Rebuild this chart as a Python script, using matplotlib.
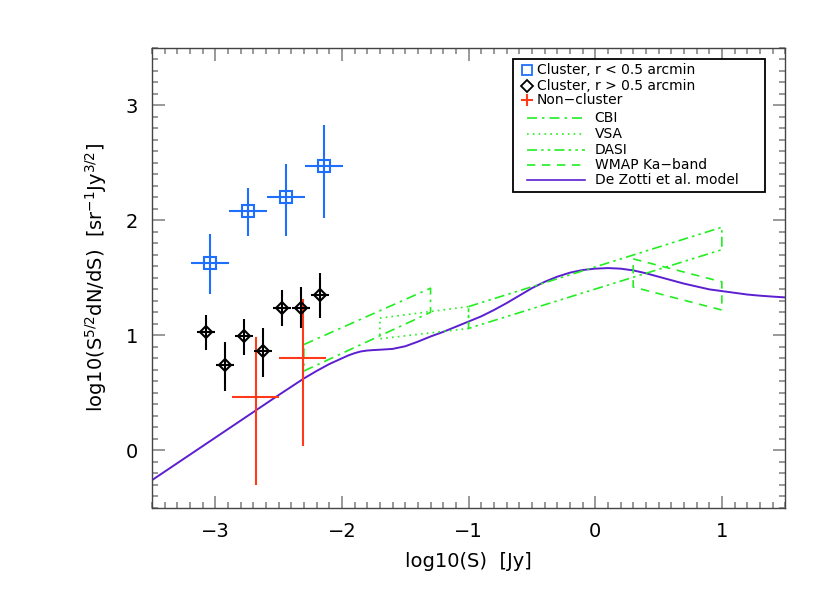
import matplotlib
matplotlib.use("Agg")
import matplotlib.pyplot as plt
from matplotlib.patches import Rectangle
from matplotlib.ticker import MultipleLocator

# ---- data ----
# Cluster, r < 0.5 arcmin (blue squares)
blue_x = [-3.04, -2.74, -2.44, -2.14]
blue_y = [1.63, 2.08, 2.20, 2.47]
blue_xerr = [0.15, 0.15, 0.15, 0.15]
blue_yerr_lo = [0.27, 0.22, 0.34, 0.45]
blue_yerr_hi = [0.25, 0.20, 0.29, 0.36]

# Cluster, r > 0.5 arcmin (black diamonds)
black_x = [-3.07, -2.92, -2.77, -2.62, -2.47, -2.32, -2.17]
black_y = [1.03, 0.74, 0.99, 0.86, 1.24, 1.24, 1.35]
black_xerr = [0.07, 0.07, 0.07, 0.07, 0.07, 0.07, 0.07]
black_yerr_lo = [0.16, 0.22, 0.16, 0.22, 0.16, 0.18, 0.20]
black_yerr_hi = [0.15, 0.20, 0.15, 0.20, 0.15, 0.18, 0.19]

# Non-cluster (red crosses)
red_x = [-2.68, -2.31]
red_y = [0.465, 0.80]
red_xerr = [0.185, 0.185]
red_yerr_lo = [0.77, 0.76]
red_yerr_hi = [0.52, 0.52]

# survey boxes: x range, upper and lower edges
cbi_x = [-2.3, -1.3]
cbi_upper = [0.92, 1.41]
cbi_lower = [0.69, 1.20]
vsa_x = [-1.7, -1.0]
vsa_upper = [1.15, 1.25]
vsa_lower = [0.97, 1.06]
dasi_x = [-1.0, 1.0]
dasi_upper = [1.25, 1.94]
dasi_lower = [1.06, 1.745]
wmap_x = [0.3, 1.0]
wmap_upper = [1.665, 1.465]
wmap_lower = [1.42, 1.22]

# De Zotti et al. model
model_x = [-3.5, -3.0, -2.5, -2.3, -2.2, -2.1, -2.0, -1.95, -1.9, -1.85, -1.8,
           -1.75, -1.7, -1.6, -1.5, -1.4, -1.3, -1.2, -1.1, -1.0, -0.9, -0.8,
           -0.7, -0.6, -0.5, -0.4, -0.3, -0.2, -0.1, 0.0, 0.1, 0.2, 0.3, 0.4,
           0.5, 0.6, 0.7, 0.8, 0.9, 1.0, 1.1, 1.2, 1.3, 1.4, 1.5]
model_y = [-0.26, 0.11, 0.48, 0.625, 0.69, 0.75, 0.80, 0.825, 0.845, 0.86, 0.868,
           0.872, 0.875, 0.882, 0.905, 0.945, 0.99, 1.03, 1.075, 1.12, 1.165, 1.22,
           1.28, 1.345, 1.41, 1.465, 1.51, 1.545, 1.568, 1.58, 1.585, 1.58, 1.565, 1.54,
           1.51, 1.48, 1.45, 1.425, 1.40, 1.385, 1.37, 1.355, 1.345, 1.337, 1.33]

xticks = [-3, -2, -1, 0, 1]
yticks = [0, 1, 2, 3]

BLUE = '#1F6FFF'
RED = '#FF3A1A'
GREEN = '#22EE22'
PURPLE = '#5B1FD0'

DASHDOT = (0, (6, 3, 1.5, 3))
DOTTED = (0, (1, 2.5))
DASHDOTDOT = (0, (6, 2.5, 1.5, 2.5, 1.5, 2.5))
DASHED = (0, (5, 4))

fig = plt.figure(figsize=(8.3, 6.06), dpi=100)
ax = fig.add_axes([0.183, 0.162, 0.763, 0.759])

# model curve
ax.plot(model_x, model_y, color=PURPLE, lw=1.4, zorder=2)

def box(xs, up, lo, ls):
    bx = [xs[0], xs[1], xs[1], xs[0], xs[0]]
    by = [up[0], up[1], lo[1], lo[0], up[0]]
    ax.plot(bx, by, color=GREEN, lw=1.2, linestyle=ls, zorder=2)

box(cbi_x, cbi_upper, cbi_lower, DASHDOT)
box(vsa_x, vsa_upper, vsa_lower, DOTTED)
box(dasi_x, dasi_upper, dasi_lower, DASHDOTDOT)
box(wmap_x, wmap_upper, wmap_lower, DASHED)

# data points
ax.errorbar(red_x, red_y, xerr=red_xerr, yerr=[red_yerr_lo, red_yerr_hi],
            fmt='none', ecolor=RED, elinewidth=1.5, capsize=0, zorder=3)
ax.errorbar(black_x, black_y, xerr=black_xerr, yerr=[black_yerr_lo, black_yerr_hi],
            fmt='D', mfc='none', mec='black', mew=1.5, ms=6.5, ecolor='black',
            elinewidth=1.5, capsize=0, zorder=4)
ax.errorbar(blue_x, blue_y, xerr=blue_xerr, yerr=[blue_yerr_lo, blue_yerr_hi],
            fmt='s', mfc='none', mec=BLUE, mew=1.5, ms=8, ecolor=BLUE,
            elinewidth=1.5, capsize=0, zorder=4)

ax.set_xlim(-3.5, 1.5)
ax.set_ylim(-0.5, 3.5)
ax.set_xticks(xticks)
ax.set_yticks(yticks)
ax.set_xticklabels([str(t).replace('-', '\u2212') for t in xticks])
ax.set_yticklabels([str(t) for t in yticks])
ax.xaxis.set_minor_locator(MultipleLocator(0.1))
ax.yaxis.set_minor_locator(MultipleLocator(0.1))
ax.tick_params(which='both', direction='in', top=True, right=True,
               color='#888888', width=1.2, labelsize=14, labelcolor='black')
ax.tick_params(which='major', length=9, pad=10)
ax.tick_params(which='minor', length=4.5)
for s in ax.spines.values():
    s.set_color('#444444')
    s.set_linewidth(1.0)

ax.set_xlabel('log10(S)  [Jy]', fontsize=14, labelpad=8)
ax.set_ylabel(r'log10(S$^{5/2}$dN/dS)  [sr$^{-1}$Jy$^{3/2}$]', fontsize=14, labelpad=12)

# legend (manual)
T = ax.transAxes
ax.add_patch(Rectangle((0.570, 0.687), 0.398, 0.289, transform=T,
                       facecolor='white', edgecolor='black', lw=1.3, zorder=5))
mx, tx = 0.593, 0.608
lx0, lx1, ltx = 0.593, 0.684, 0.699
rows = [0.951, 0.918, 0.886]
ax.plot([mx], [rows[0]], marker='s', ms=7, mfc='none', mec=BLUE, mew=1.3,
        transform=T, zorder=6)
ax.plot([mx], [rows[1]], marker='D', ms=6, mfc='none', mec='black', mew=1.3,
        transform=T, zorder=6)
ax.plot([mx], [rows[2]], marker='+', ms=9, mec=RED, mew=1.5,
        transform=T, zorder=6)
labels_m = ['Cluster, r < 0.5 arcmin', 'Cluster, r > 0.5 arcmin', 'Non\u2212cluster']
for y, lab in zip(rows, labels_m):
    ax.text(tx, y, lab, transform=T, fontsize=10, va='center', ha='left', zorder=6)

line_rows = [0.847, 0.813, 0.778, 0.746, 0.712]
line_styles = [(GREEN, DASHDOT), (GREEN, DOTTED), (GREEN, DASHDOTDOT),
               (GREEN, DASHED), (PURPLE, '-')]
line_labels = ['CBI', 'VSA', 'DASI', 'WMAP Ka\u2212band', 'De Zotti et al. model']
for y, (c, ls), lab in zip(line_rows, line_styles, line_labels):
    ax.plot([lx0, lx1], [y, y], color=c, linestyle=ls, lw=1.2, transform=T, zorder=6)
    ax.text(ltx, y, lab, transform=T, fontsize=10, va='center', ha='left', zorder=6)

fig.savefig('out.png', dpi=100)
